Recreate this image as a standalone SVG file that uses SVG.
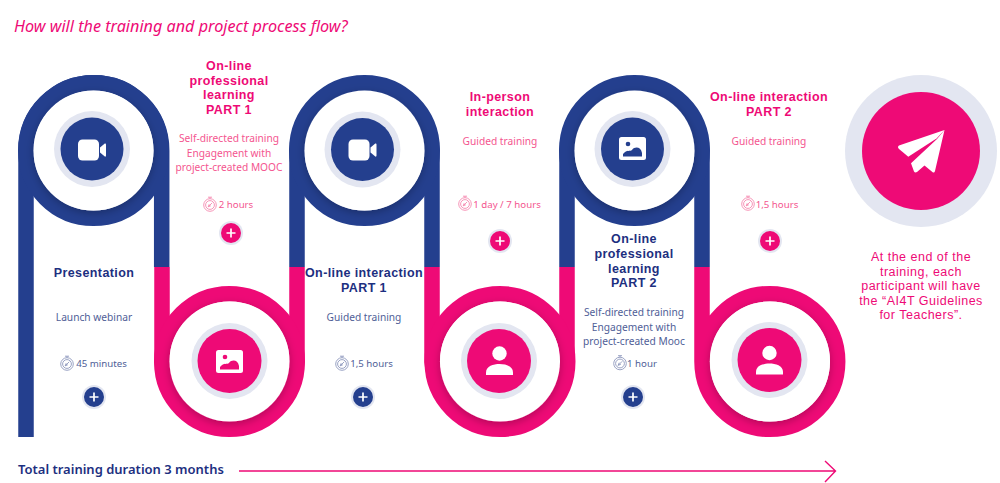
<svg xmlns="http://www.w3.org/2000/svg" width="1000" height="483" viewBox="0 0 1000 483">
<style>
text{font-family:"Noto Sans","Liberation Sans",sans-serif;text-anchor:middle}
.h{font-family:"Liberation Sans",Arial,sans-serif;font-size:12.500px;font-weight:700;letter-spacing:.4px}
.b{font-size:10.200px}
.t{font-size:9.700px}
.f{font-family:"Liberation Sans",Arial,sans-serif;font-size:12.500px;letter-spacing:.5px}
.pk{fill:#ee0a76}.bl{fill:#1d2f80}
.pks{fill:#f4558f}.bls{fill:#4f5e97}
.ring{fill:none;stroke-width:15.500}
.halo{fill:#e3e6f1}
.wh{fill:#fff}
.bs{stroke:#243f8e}.ps{stroke:#ee0a76}
.bf{fill:#243f8e}.pf{fill:#ee0a76}
</style>
<defs>
<filter id="sh" x="-30%" y="-30%" width="160%" height="160%"><feDropShadow dx="0" dy="2.500" stdDeviation="4.500" flood-color="#000" flood-opacity=".26"/></filter>
<g id="cam" class="wh"><rect x="-14" y="-10.500" width="21" height="21" rx="4.500"/><path d="M8,-2.500L12.800,-6.500Q14,-7 14,-5.500V5.500Q14,7 12.800,6.500L8,2.500Z"/></g>
<g id="per" class="wh"><circle cx="0" cy="-7.500" r="7.200"/><path d="M-13.500,14V11.500C-13.500,5 -6,3 0,3S13.500,5 13.500,11.500V14Z"/></g>
<g id="clk" fill="none" stroke-width="0.900"><circle r="6.300"/><circle r="4.400"/><path d="M-2,-7.800H2M0,-7.800V-6.300M-1.800,1.800L2.200,-2.200M-1.800,1.800L0.800,0.800M-1.800,1.800L-0.800,-0.800"/></g>
<path id="pl" d="M-4.500,0H4.500M0,-4.500V4.500" stroke="#fff" stroke-width="1.700" fill="none"/>
<clipPath id="c1"><circle cx="93.500" cy="150.500" r="75.500"/></clipPath>
<clipPath id="c2"><circle cx="229.500" cy="361.500" r="75.500"/></clipPath>
<clipPath id="c3"><circle cx="364.500" cy="150.500" r="75.500"/></clipPath>
<clipPath id="c4"><circle cx="500" cy="361.500" r="75.500"/></clipPath>
<clipPath id="c5"><circle cx="634.500" cy="150.500" r="75.500"/></clipPath>
<clipPath id="c6"><circle cx="770" cy="361.500" r="75.500"/></clipPath>
</defs>
<rect width="1000" height="483" fill="#fff"/>
<text id="title" x="14" y="32" class="pk" style="text-anchor:start;font-size:16.200px;font-style:italic">How will the training and project process flow?</text>

<g id="connectors">
<path d="M26,437V150.500A67.750,67.750 0 0 1 161.700,150.500V267" class="ring bs"/>
<path d="M162,267V361.500A67.750,67.750 0 0 0 297,361.500V267" class="ring ps"/>
<path d="M297,267V150.500A67.750,67.750 0 0 1 432,150.500V267" class="ring bs"/>
<path d="M432,267V361.500A67.750,67.750 0 0 0 567,361.500V267" class="ring ps"/>
<path d="M567,267V150.500A67.750,67.750 0 0 1 702,150.500V267" class="ring bs"/>
<path d="M702,267V361.500A67.750,67.750 0 0 0 837.700,361.500A67.750,67.750 0 0 0 702,361.500" class="ring ps"/>
<circle cx="93.500" cy="150.500" r="67.750" class="ring bs"/>
<circle cx="229.500" cy="361.500" r="67.750" class="ring ps"/>
<circle cx="364.500" cy="150.500" r="67.750" class="ring bs"/>
<circle cx="500" cy="361.500" r="67.750" class="ring ps"/>
<circle cx="634.500" cy="150.500" r="67.750" class="ring bs"/>
<g clip-path="url(#c1)"><circle cx="93.500" cy="150.500" r="60" class="wh" filter="url(#sh)"/></g>
<g clip-path="url(#c2)"><circle cx="229.500" cy="361.500" r="60" class="wh" filter="url(#sh)"/></g>
<g clip-path="url(#c3)"><circle cx="364.500" cy="150.500" r="60" class="wh" filter="url(#sh)"/></g>
<g clip-path="url(#c4)"><circle cx="500" cy="361.500" r="60" class="wh" filter="url(#sh)"/></g>
<g clip-path="url(#c5)"><circle cx="634.500" cy="150.500" r="60" class="wh" filter="url(#sh)"/></g>
<g clip-path="url(#c6)"><circle cx="770" cy="361.500" r="60" class="wh" filter="url(#sh)"/></g>
<path id="timeline" d="M239,471H835M825,461L835.500,471L825,482" fill="none" stroke="#ee0a76" stroke-width="1.400"/>
</g>

<g id="n1">
<circle cx="92" cy="149" r="38" class="halo"/><circle cx="92" cy="149" r="31.500" class="bf"/>
<use href="#cam" x="92" y="150"/>
<text x="94" y="277" class="h bl">Presentation</text>
<text x="94" y="321" class="b bls">Launch webinar</text>
<use href="#clk" x="67" y="364" stroke="#8f99bd"/>
<text x="101.500" y="367" class="t bls">45 minutes</text>
<circle cx="94" cy="397" r="12" class="halo"/><circle cx="94" cy="397" r="10" class="bf"/><use href="#pl" x="94" y="397"/>
</g>

<g id="n2">
<circle cx="229.500" cy="361" r="38" class="halo"/><circle cx="229.500" cy="361" r="32" class="pf"/>
<rect x="216" y="350" width="27" height="23" rx="2.500" class="wh"/>
<circle cx="225" cy="357" r="2.300" class="pf"/><path d="M220,369.500V367C224,362 227,365 229,363C232,359 238,360 239,366V369.500Z" class="pf"/>
<text class="h pk"><tspan x="229" y="70">On-line</tspan><tspan x="229" y="84.500">professional</tspan><tspan x="229" y="99">learning</tspan><tspan x="229" y="113.500">PART 1</tspan></text>
<text class="b pks"><tspan x="229" y="142">Self-directed training</tspan><tspan x="229" y="156.500">Engagement with</tspan><tspan x="229" y="171">project-created MOOC</tspan></text>
<use href="#clk" x="210" y="205" stroke="#f58ab0"/>
<text x="236" y="208" class="t pks">2 hours</text>
<circle cx="231" cy="233" r="12" class="halo"/><circle cx="231" cy="233" r="10" class="pf"/><use href="#pl" x="231" y="233"/>
</g>

<g id="n3">
<circle cx="362.500" cy="149.500" r="38" class="halo"/><circle cx="362.500" cy="149.500" r="31.500" class="bf"/>
<use href="#cam" x="362.500" y="150"/>
<text class="h bl"><tspan x="364" y="277">On-line interaction</tspan><tspan x="364" y="292">PART 1</tspan></text>
<text x="364" y="321" class="b bls">Guided training</text>
<use href="#clk" x="342" y="364" stroke="#8f99bd"/>
<text x="371.500" y="367" class="t bls">1,5 hours</text>
<circle cx="363" cy="397" r="12" class="halo"/><circle cx="363" cy="397" r="10" class="bf"/><use href="#pl" x="363" y="397"/>
</g>

<g id="n4">
<circle cx="499" cy="361" r="38" class="halo"/><circle cx="499" cy="361" r="32" class="pf"/>
<use href="#per" x="499.500" y="361"/>
<text class="h pk"><tspan x="500" y="101">In-person</tspan><tspan x="500" y="115.500">interaction</tspan></text>
<text x="500" y="145" class="b pks">Guided training</text>
<use href="#clk" x="465" y="204" stroke="#f58ab0"/>
<text x="507" y="208" class="t pks">1 day / 7 hours</text>
<circle cx="500" cy="241" r="12" class="halo"/><circle cx="500" cy="241" r="10" class="pf"/><use href="#pl" x="500" y="241"/>
</g>

<g id="n5">
<circle cx="632.500" cy="149" r="38" class="halo"/><circle cx="632.500" cy="149" r="31.500" class="bf"/>
<rect x="619" y="137" width="27" height="23" rx="2.500" class="wh"/>
<circle cx="628" cy="144" r="2.300" class="bf"/><path d="M623,156.500V154C627,149 630,152 632,150C635,146 641,147 642,153V156.500Z" class="bf"/>
<text class="h bl"><tspan x="634" y="243">On-line</tspan><tspan x="634" y="258">professional</tspan><tspan x="634" y="272.500">learning</tspan><tspan x="634" y="287">PART 2</tspan></text>
<text class="b bls"><tspan x="634" y="316">Self-directed training</tspan><tspan x="634" y="331">Engagement with</tspan><tspan x="634" y="345">project-created Mooc</tspan></text>
<use href="#clk" x="620" y="363.500" stroke="#8f99bd"/>
<text x="642" y="367" class="t bls">1 hour</text>
<circle cx="633" cy="397" r="12" class="halo"/><circle cx="633" cy="397" r="10" class="bf"/><use href="#pl" x="633" y="397"/>
</g>

<g id="n6">
<circle cx="769.500" cy="360" r="38" class="halo"/><circle cx="769.500" cy="360" r="32" class="pf"/>
<use href="#per" x="769.500" y="360.500"/>
<text class="h pk"><tspan x="769" y="101">On-line interaction</tspan><tspan x="769" y="115.500">PART 2</tspan></text>
<text x="769" y="145" class="b pks">Guided training</text>
<use href="#clk" x="748" y="204" stroke="#f58ab0"/>
<text x="777" y="208" class="t pks">1,5 hours</text>
<circle cx="770" cy="241" r="12" class="halo"/><circle cx="770" cy="241" r="10" class="pf"/><use href="#pl" x="770" y="241"/>
</g>

<g id="n7">
<circle cx="921" cy="151" r="76" class="halo"/><circle cx="921" cy="151" r="59" class="pf"/>
<path d="M944.500,130L899,145.500Q897,147 899,149L908.300,156.700L936.500,138.500Z" class="wh"/>
<path d="M944.500,130L937,139L911,163.300L914,171.500Q915,173 917,172L924.500,165.500L933,172.500Q934.500,173 935,171Z" class="wh"/>
<text class="f pk"><tspan x="921" y="261">At the end of the</tspan><tspan x="921" y="275.500">training, each</tspan><tspan x="921" y="290">participant will have</tspan><tspan x="921" y="304.500">the “AI4T Guidelines</tspan><tspan x="921" y="319">for Teachers”.</tspan></text>
</g>

<text id="total" x="18" y="474" class="bl" style="text-anchor:start;font-size:13px;font-weight:600">Total training duration 3 months</text>
</svg>
